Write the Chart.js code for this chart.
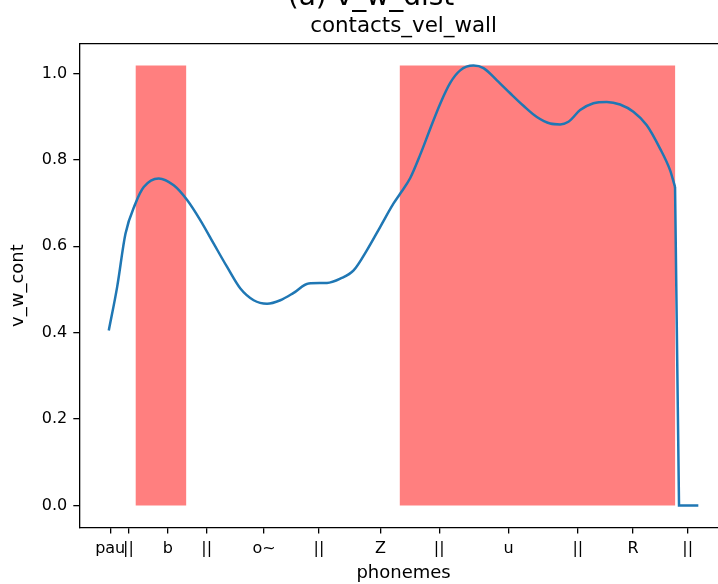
<!DOCTYPE html>
<html>
<head>
<meta charset="utf-8">
<script src="https://cdn.jsdelivr.net/npm/chart.js@4.4.1/dist/chart.umd.min.js"></script>
<style>
    html, body { margin: 0; padding: 0; background: #fff; overflow: hidden; }
    #wrap { width: 760px; height: 584px; }
</style>
</head>
<body>
<div id="wrap"><canvas id="contactsChart" width="760" height="584"></canvas></div>
<script>
// contact velocity curve, x is in frame units from start of utterance
const timePoints = [0, 8.4, 16.7, 26.7, 35, 50, 65, 78.4, 91.7, 105, 118.4, 131.7, 145, 158.4,
    171.7, 185, 200, 218.4, 231.7, 245, 258.4, 271.7, 285, 291.7, 301.7, 311.7, 321.7, 331.7,
    341.7, 351.7, 365, 375, 388.4, 401.7, 415, 428.4, 441.7, 451.7, 460, 471.7, 485, 498.4,
    511.7, 525, 538.4, 551.7, 561.7, 566.7];
const contactValues = [0.405, 0.506, 0.629, 0.699, 0.737, 0.757, 0.741, 0.707, 0.660, 0.606,
    0.552, 0.502, 0.475, 0.467, 0.475, 0.492, 0.514, 0.515, 0.525, 0.544, 0.591, 0.645, 0.699,
    0.722, 0.758, 0.812, 0.872, 0.930, 0.978, 1.007, 1.018, 1.012, 0.984, 0.954, 0.925, 0.899,
    0.884, 0.882, 0.888, 0.915, 0.931, 0.934, 0.928, 0.911, 0.880, 0.826, 0.776, 0.737];

// sharp release at the end of the utterance
const releaseTimes = [566.7, 570.7, 590];
const releaseValues = [0.737, 0, 0];

// highlighted (contact) regions
const regionStarts = [26.7, 291];
const regionEnds = [77.7, 567];
const regionTop = 1.018;

// phoneme tick marks
const phonemeTickPos = [1.4, 19.7, 59, 98, 155.4, 210.4, 272, 330.7, 400, 469.4, 524.7, 579.4];
const phonemeLabels = ['pau', '||', 'b', '||', 'o~', '||', 'Z', '||', 'u', '||', 'R', '||'];

const yTicks = [0, 0.2, 0.4, 0.6, 0.8, 1.0];

const FONT = 'DejaVu Sans';
const LINE_COLOR = '#1f77b4';

const regionSets = regionStarts.map((s, i) => ({
    data: [{x: s, y: 0}, {x: s, y: regionTop}, {x: regionEnds[i], y: regionTop}, {x: regionEnds[i], y: 0}],
    backgroundColor: 'rgba(255, 0, 0, 0.5)',
    borderWidth: 0,
    pointRadius: 0,
    fill: 'origin',
    tension: 0
}));

const titlesPlugin = {
    id: 'titles',
    afterDatasetsDraw(chart) {
        const {ctx, chartArea} = chart;
        ctx.save();
        // top and right spines
        ctx.strokeStyle = '#000';
        ctx.lineWidth = 1.3;
        ctx.beginPath();
        ctx.moveTo(chartArea.left, chartArea.top);
        ctx.lineTo(chartArea.right, chartArea.top);
        ctx.lineTo(chartArea.right, chartArea.bottom);
        ctx.stroke();
        ctx.fillStyle = '#000';
        ctx.textAlign = 'center';
        ctx.textBaseline = 'alphabetic';
        ctx.font = '21.4px "' + FONT + '"';
        ctx.fillText('contacts_vel_wall', (chartArea.left + chartArea.right) / 2, 32);
        ctx.font = '28px "' + FONT + '"';
        ctx.fillText('(a) v_w_dist', 371, 5);
        ctx.restore();
    }
};

const ctx = document.getElementById('contactsChart').getContext('2d');
new Chart(ctx, {
    type: 'line',
    data: {
        datasets: [{
            data: timePoints.map((t, i) => ({x: t, y: contactValues[i]})),
            borderColor: LINE_COLOR,
            borderWidth: 2.5,
            pointRadius: 0,
            fill: false,
            cubicInterpolationMode: 'monotone'
        }, {
            data: releaseTimes.map((t, i) => ({x: t, y: releaseValues[i]})),
            borderColor: LINE_COLOR,
            borderWidth: 2.5,
            pointRadius: 0,
            fill: false,
            tension: 0
        }, ...regionSets]
    },
    options: {
        responsive: false,
        animation: false,
        devicePixelRatio: 1,
        layout: { padding: { top: 43.7, right: 32.2, left: 0, bottom: 0 } },
        plugins: { legend: { display: false }, tooltip: { enabled: false } },
        scales: {
            x: {
                type: 'linear',
                min: -29.5,
                max: 619.5,
                afterBuildTicks: (scale) => { scale.ticks = phonemeTickPos.map(v => ({value: v})); },
                afterFit: (scale) => { scale.height = 56.5; },
                ticks: {
                    autoSkip: false,
                    maxRotation: 0,
                    padding: 6,
                    color: '#000',
                    font: { family: FONT, size: 16 },
                    callback: (value, index) => phonemeLabels[index]
                },
                grid: { drawOnChartArea: false, drawTicks: true, tickLength: 6, color: '#000', lineWidth: 1.3 },
                border: { display: true, color: '#000', width: 1.3 },
                title: { display: true, text: 'phonemes', color: '#000', font: { family: FONT, size: 18 }, padding: { top: 0, bottom: 0 } }
            },
            y: {
                min: -0.0509,
                max: 1.0687,
                afterBuildTicks: (scale) => { scale.ticks = yTicks.map(v => ({value: v})); },
                afterFit: (scale) => { scale.width = 79.3; },
                ticks: {
                    padding: 6,
                    color: '#000',
                    font: { family: FONT, size: 16 },
                    callback: (value) => value.toFixed(1)
                },
                grid: { drawOnChartArea: false, drawTicks: true, tickLength: 6, color: '#000', lineWidth: 1.3 },
                border: { display: true, color: '#000', width: 1.3 },
                title: { display: true, text: 'v_w_cont', color: '#000', font: { family: FONT, size: 18 }, padding: { top: 8, bottom: 0 } }
            }
        }
    },
    plugins: [titlesPlugin]
});
</script>
</body>
</html>
